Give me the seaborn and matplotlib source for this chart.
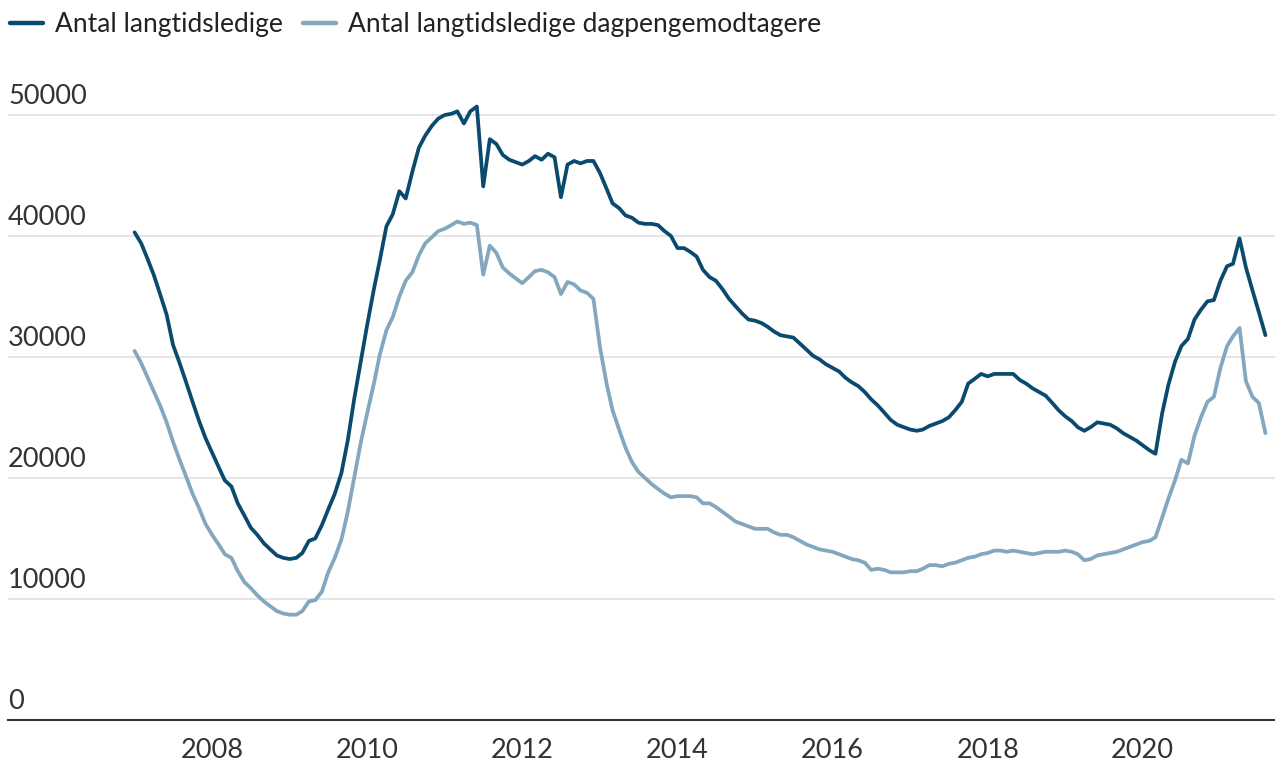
import pandas as pd
import seaborn as sns
import matplotlib.pyplot as plt
import matplotlib.dates as mdates
from matplotlib.transforms import ScaledTranslation

# Monthly observations, Jan 2007 - Aug 2021
months = pd.date_range("2007-01-01", "2021-08-01", freq="MS")

langtidsledige = [
    # 2007
    40300, 39400, 38200, 36800, 35200, 33500, 31000, 29500, 27900, 26300, 24700, 23300,
    # 2008
    22100, 20900, 19800, 19300, 17900, 16900, 15900, 15300, 14600, 14100, 13600, 13400,
    # 2009
    13300, 13400, 13800, 14800, 15000, 16100, 17400, 18700, 20400, 23100, 26600, 29600,
    # 2010
    32700, 35600, 38000, 40800, 41800, 43700, 43100, 45300, 47300, 48300, 49100, 49700,
    # 2011
    50000, 50100, 50300, 49300, 50300, 50700, 44100, 48000, 47600, 46700, 46300, 46100,
    # 2012
    45900, 46200, 46600, 46300, 46800, 46500, 43200, 45900, 46200, 46000, 46200, 46200,
    # 2013
    45200, 43900, 42700, 42300, 41700, 41500, 41100, 41000, 41000, 40900, 40400, 40000,
    # 2014
    39000, 39000, 38700, 38300, 37200, 36600, 36300, 35600, 34800, 34200, 33600, 33100,
    # 2015
    33000, 32800, 32500, 32100, 31800, 31700, 31600, 31100, 30600, 30100, 29800, 29400,
    # 2016
    29100, 28800, 28300, 27900, 27600, 27100, 26500, 26000, 25400, 24800, 24400, 24200,
    # 2017
    24000, 23900, 24000, 24300, 24500, 24700, 25000, 25600, 26300, 27800, 28200, 28600,
    # 2018
    28400, 28600, 28600, 28600, 28600, 28100, 27800, 27400, 27100, 26800, 26200, 25600,
    # 2019
    25100, 24700, 24200, 23900, 24200, 24600, 24500, 24400, 24100, 23700, 23400, 23100,
    # 2020
    22700, 22300, 22000, 25300, 27700, 29600, 30900, 31500, 33100, 33900, 34600, 34700,
    # 2021
    36300, 37500, 37700, 39800, 37400, 35500, 33700, 31800,
]

dagpengemodtagere = [
    # 2007
    30500, 29500, 28400, 27200, 26000, 24600, 23000, 21500, 20100, 18700, 17500, 16200,
    # 2008
    15300, 14500, 13700, 13400, 12300, 11400, 10900, 10300, 9800, 9400, 9000, 8800,
    # 2009
    8700, 8700, 9000, 9800, 9900, 10600, 12200, 13400, 14900, 17200, 20100, 22900,
    # 2010
    25400, 27800, 30200, 32200, 33300, 35000, 36300, 37000, 38400, 39400, 39900, 40400,
    # 2011
    40600, 40900, 41200, 41000, 41100, 40900, 36800, 39200, 38600, 37400, 36900, 36500,
    # 2012
    36100, 36600, 37100, 37200, 37000, 36600, 35200, 36200, 36000, 35500, 35300, 34800,
    # 2013
    30800, 27800, 25600, 24000, 22500, 21300, 20500, 20000, 19500, 19100, 18700, 18400,
    # 2014
    18500, 18500, 18500, 18400, 17900, 17900, 17600, 17200, 16800, 16400, 16200, 16000,
    # 2015
    15800, 15800, 15800, 15500, 15300, 15300, 15100, 14800, 14500, 14300, 14100, 14000,
    # 2016
    13900, 13700, 13500, 13300, 13200, 13000, 12400, 12500, 12400, 12200, 12200, 12200,
    # 2017
    12300, 12300, 12500, 12800, 12800, 12700, 12900, 13000, 13200, 13400, 13500, 13700,
    # 2018
    13800, 14000, 14000, 13900, 14000, 13900, 13800, 13700, 13800, 13900, 13900, 13900,
    # 2019
    14000, 13900, 13700, 13200, 13300, 13600, 13700, 13800, 13900, 14100, 14300, 14500,
    # 2020
    14700, 14800, 15100, 16700, 18300, 19800, 21500, 21200, 23500, 25000, 26300, 26700,
    # 2021
    29100, 30900, 31700, 32400, 28000, 26700, 26200, 23700,
]

series_names = ["Antal langtidsledige", "Antal langtidsledige dagpengemodtagere"]
colors = ["#0b4a6f", "#82a7be"]
y_ticks = [0, 10000, 20000, 30000, 40000, 50000]
x_tick_years = [2008, 2010, 2012, 2014, 2016, 2018, 2020]

df = pd.DataFrame({
    "Dato": list(months) * 2,
    "Antal": langtidsledige + dagpengemodtagere,
    "Serie": [series_names[0]] * len(months) + [series_names[1]] * len(months),
})

sns.set_style("white")
plt.rcParams["font.family"] = ["Lato", "DejaVu Sans"]

fig = plt.figure(figsize=(12.75, 7.72), dpi=100)
ax = fig.add_axes([0.0063, 0.0674, 0.9937, 0.815])

sns.lineplot(data=df, x="Dato", y="Antal", hue="Serie", palette=colors,
             linewidth=2.7, ax=ax)

ax.set_xlim(pd.Timestamp("2005-05-15"), pd.Timestamp("2021-09-15"))
ax.set_ylim(0, 52000)
ax.set_xlabel("")
ax.set_ylabel("")

# y axis: labels sitting above the gridlines
ax.set_yticks(y_ticks)
ax.set_yticklabels([str(v) for v in y_ticks])
ax.yaxis.grid(True, color="#e3e3e3", linewidth=1.3)
ax.tick_params(axis="y", length=0, pad=0, labelsize=19.5, labelcolor="#333333")
offset = ScaledTranslation(0, 4 / 72, fig.dpi_scale_trans)
for lab in ax.get_yticklabels():
    lab.set_horizontalalignment("left")
    lab.set_verticalalignment("bottom")
    lab.set_transform(lab.get_transform() + offset)

# x axis
ax.set_xticks([pd.Timestamp(f"{y}-01-01") for y in x_tick_years])
ax.xaxis.set_major_formatter(mdates.DateFormatter("%Y"))
ax.tick_params(axis="x", direction="out", length=6, width=1.4, color="#333333",
               pad=7, labelsize=19.5, labelcolor="#333333")

for s in ["top", "right", "left"]:
    ax.spines[s].set_visible(False)
ax.spines["bottom"].set_color("#333333")
ax.spines["bottom"].set_linewidth(1.5)

handles, labels = ax.get_legend_handles_labels()
for h in handles:
    h.set_linewidth(3.2)
ax.legend(handles, labels, loc="center left", bbox_to_anchor=(0.008, 0.968),
          bbox_transform=fig.transFigure, ncol=2, frameon=False, fontsize=19,
          handlelength=1.25, handletextpad=0.45, columnspacing=0.75,
          borderaxespad=0, borderpad=0, labelcolor="#222222")

plt.savefig("out.png", dpi=100)
